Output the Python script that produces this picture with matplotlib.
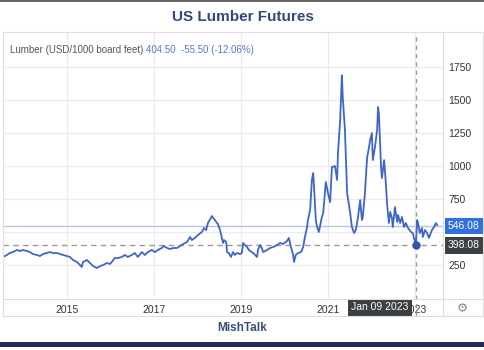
import matplotlib
matplotlib.use("Agg")
import matplotlib.pyplot as plt
from matplotlib.patches import Rectangle
from matplotlib.lines import Line2D

plt.rcParams['font.family'] = ['Liberation Sans', 'DejaVu Sans']

# ---- data (decimal years, USD per 1000 board feet) ----
years = [2013.53, 2013.62, 2013.69, 2013.76, 2013.85, 2013.92, 2013.99, 2014.08, 2014.15, 2014.22,
         2014.31, 2014.38, 2014.45, 2014.54, 2014.61, 2014.68, 2014.77, 2014.84, 2014.91, 2015.00,
         2015.07, 2015.14, 2015.23, 2015.30, 2015.34, 2015.37, 2015.46, 2015.53, 2015.60, 2015.69,
         2015.76, 2015.83, 2015.92, 2015.99, 2016.03, 2016.10, 2016.17, 2016.26, 2016.33, 2016.40,
         2016.49, 2016.56, 2016.63, 2016.72, 2016.79, 2016.86, 2016.95, 2017.02, 2017.09, 2017.18,
         2017.23, 2017.30, 2017.37, 2017.44, 2017.53, 2017.60, 2017.67, 2017.76, 2017.83, 2017.87,
         2017.94, 2018.01, 2018.10, 2018.15, 2018.20, 2018.24, 2018.31, 2018.33, 2018.40, 2018.45,
         2018.47, 2018.52, 2018.56, 2018.59, 2018.61, 2018.66, 2018.68, 2018.72, 2018.77, 2018.82,
         2018.86, 2018.91, 2018.98, 2019.02, 2019.05, 2019.09, 2019.14, 2019.18, 2019.25, 2019.28,
         2019.37, 2019.39, 2019.44, 2019.48, 2019.51, 2019.60, 2019.67, 2019.74, 2019.83, 2019.90,
         2019.97, 2020.06, 2020.10, 2020.15, 2020.20, 2020.22, 2020.26, 2020.31, 2020.38, 2020.43,
         2020.47, 2020.52, 2020.54, 2020.59, 2020.63, 2020.66, 2020.68, 2020.72, 2020.75, 2020.79,
         2020.86, 2020.89, 2020.95, 2021.00, 2021.05, 2021.09, 2021.16, 2021.21, 2021.23, 2021.28,
         2021.32, 2021.34, 2021.39, 2021.44, 2021.51, 2021.55, 2021.60, 2021.64, 2021.69, 2021.74,
         2021.78, 2021.80, 2021.85, 2021.90, 2021.92, 2021.97, 2022.01, 2022.03, 2022.08, 2022.13,
         2022.15, 2022.17, 2022.22, 2022.24, 2022.29, 2022.33, 2022.36, 2022.40, 2022.43, 2022.47,
         2022.49, 2022.54, 2022.59, 2022.61, 2022.66, 2022.70, 2022.75, 2022.79, 2022.84, 2022.91,
         2022.95, 2023.02, 2023.05, 2023.07, 2023.11, 2023.16, 2023.18, 2023.23, 2023.28, 2023.32,
         2023.39, 2023.44, 2023.48, 2023.51]
prices = [311, 326, 341, 348, 364, 356, 364, 356, 348, 333,
          326, 318, 333, 341, 348, 341, 341, 333, 326, 318,
          311, 288, 273, 250, 235, 273, 288, 265, 242, 227,
          242, 250, 265, 258, 273, 303, 303, 311, 326, 311,
          326, 341, 311, 348, 326, 348, 364, 348, 364, 379,
          394, 379, 371, 379, 379, 394, 409, 424, 462, 439,
          455, 477, 500, 530, 515, 568, 606, 621, 591, 568,
          561, 515, 455, 417, 439, 424, 348, 341, 311, 348,
          326, 341, 333, 341, 417, 402, 386, 364, 348, 341,
          311, 364, 402, 379, 348, 364, 379, 386, 402, 417,
          409, 432, 455, 386, 326, 273, 326, 341, 348, 386,
          462, 538, 591, 667, 894, 947, 841, 591, 538, 500,
          614, 644, 879, 795, 727, 992, 1000, 894, 1098, 1348,
          1689, 1523, 1273, 795, 644, 538, 492, 515, 614, 742,
          591, 614, 795, 1068, 1098, 1197, 1250, 1045, 1144, 1273,
          1447, 1402, 992, 909, 1045, 871, 705, 568, 652, 606,
          538, 689, 576, 629, 568, 614, 538, 568, 530, 500,
          492, 398, 591, 568, 492, 530, 462, 515, 492, 455,
          515, 538, 568, 553]

ytick_vals = [250, 500, 750, 1000, 1250, 1500, 1750]
ytick_labels = ['250', '', '750', '1000', '1250', '1500', '1750']
xtick_years = [2015, 2017, 2019, 2021, 2023]
xtick_labels = ['2015', '2017', '2019', '2021', '2023']

last_price = 546.08
cross_price = 398.08
cross_year = 2023.025
cross_label = 'Jan 09 2023'

W, H = 485, 350
fig = plt.figure(figsize=(W / 100, H / 100), dpi=100)
fig.patch.set_facecolor('white')

def fx(px):
    return px / W

def fy(py):
    return 1 - py / H

# axes: x 3..443, y 33..298 px
ax = fig.add_axes([fx(3), fy(298), fx(443) - fx(3), (298 - 33) / H])
ax.set_xlim(2013.53, 2023.644)
ax.set_ylim(0, 2008)

grid_c = '#ebebeb'
for v in ytick_vals:
    ax.axhline(v, color=grid_c, lw=0.9, zorder=0)
for xv in xtick_years:
    ax.axvline(xv, color=grid_c, lw=0.9, zorder=0)

line_c = '#3f66c6'
ax.plot(years, prices, color=line_c, lw=1.3, zorder=3, solid_joinstyle='round')

# reference lines
ax.axhline(last_price, color='#b8c4de', lw=1.0, zorder=1)
ax.axhline(cross_price, color='#9a9a9a', lw=1.0, ls=(0, (4, 3)), zorder=1)
ax.axvline(cross_year, ymin=-18 / 265, ymax=1, color='#9a9a9a', lw=1.0,
           ls=(0, (3, 3)), zorder=2, clip_on=False)
ax.plot([cross_year], [cross_price], 'o', color='#3556a8', ms=5, zorder=4)

for s in ax.spines.values():
    s.set_visible(False)

ax.yaxis.tick_right()
ax.set_yticks(ytick_vals)
ax.set_yticklabels(ytick_labels)
ax.set_xticks(xtick_years)
ax.set_xticklabels(xtick_labels)
ax.tick_params(axis='y', length=0, pad=4, labelsize=7.5, labelcolor='#333333')
ax.tick_params(axis='x', length=0, pad=5, labelsize=7.5, labelcolor='#333333')

# value labels at right
ax.annotate(f'{last_price:.2f}', xy=(1, last_price), xycoords=('axes fraction', 'data'),
            xytext=(3.5, 0), textcoords='offset points', ha='left', va='center',
            fontsize=7.5, color='white',
            bbox=dict(boxstyle='square,pad=0.3', fc='#2f6fde', ec='none'), zorder=6)
ax.annotate(f'{cross_price:.2f}', xy=(1, cross_price), xycoords=('axes fraction', 'data'),
            xytext=(3.5, 0), textcoords='offset points', ha='left', va='center',
            fontsize=7.5, color='white',
            bbox=dict(boxstyle='square,pad=0.3', fc='#3c4043', ec='none'), zorder=6)

# crosshair date label (covers part of the 2023 tick label, as in the original)
ax.annotate(cross_label, xy=(cross_year, 0), xycoords=('data', 'axes fraction'),
            xytext=(-5.5, -6.8), textcoords='offset points', ha='right', va='center',
            fontsize=7.5, color='white',
            bbox=dict(boxstyle='square,pad=0.3', fc='#3c4043', ec='none'), zorder=6,
            annotation_clip=False)

# legend text
t1 = fig.text(fx(10), fy(50), 'Lumber (USD/1000 board feet)', ha='left', va='center',
              fontsize=7, color='#555555')
ax.annotate('404.50  -55.50 (-12.06%)', xy=(1, 0.5), xycoords=t1, xytext=(2, 0),
            textcoords='offset points', ha='left', va='center', fontsize=7, color='#5a78c4')

# title & footer
fig.text(0.5, fy(17), 'US Lumber Futures', ha='center', va='center', fontsize=11,
         fontweight='bold', color='#34497a')
fig.text(0.5, fy(328), 'MishTalk', ha='center', va='center', fontsize=8.5,
         fontweight='bold', color='#3b4f7a')
fig.text(fx(462), fy(308), '\u2699', ha='center', va='center', fontsize=9,
         color='#8a8a8a', family='DejaVu Sans')

# frame and decorative lines
frame_c = '#dedede'
fig.add_artist(Rectangle((fx(3), fy(316)), fx(483) - fx(3), (316 - 32) / H,
                         transform=fig.transFigure, fill=False, ec=frame_c, lw=0.8))
fig.add_artist(Line2D([fx(3), fx(483)], [fy(298.5), fy(298.5)], transform=fig.transFigure,
                      color=frame_c, lw=0.8))
fig.add_artist(Line2D([fx(443), fx(443)], [fy(32), fy(316)], transform=fig.transFigure,
                      color=frame_c, lw=0.8))
fig.add_artist(Rectangle((0, fy(2)), 1, 2 / H, transform=fig.transFigure,
                         fc='#666666', ec='none'))
fig.add_artist(Rectangle((0, fy(347)), 1, 5 / H, transform=fig.transFigure,
                         fc='#1f2b5e', ec='none'))

fig.savefig('out.png', dpi=100)
